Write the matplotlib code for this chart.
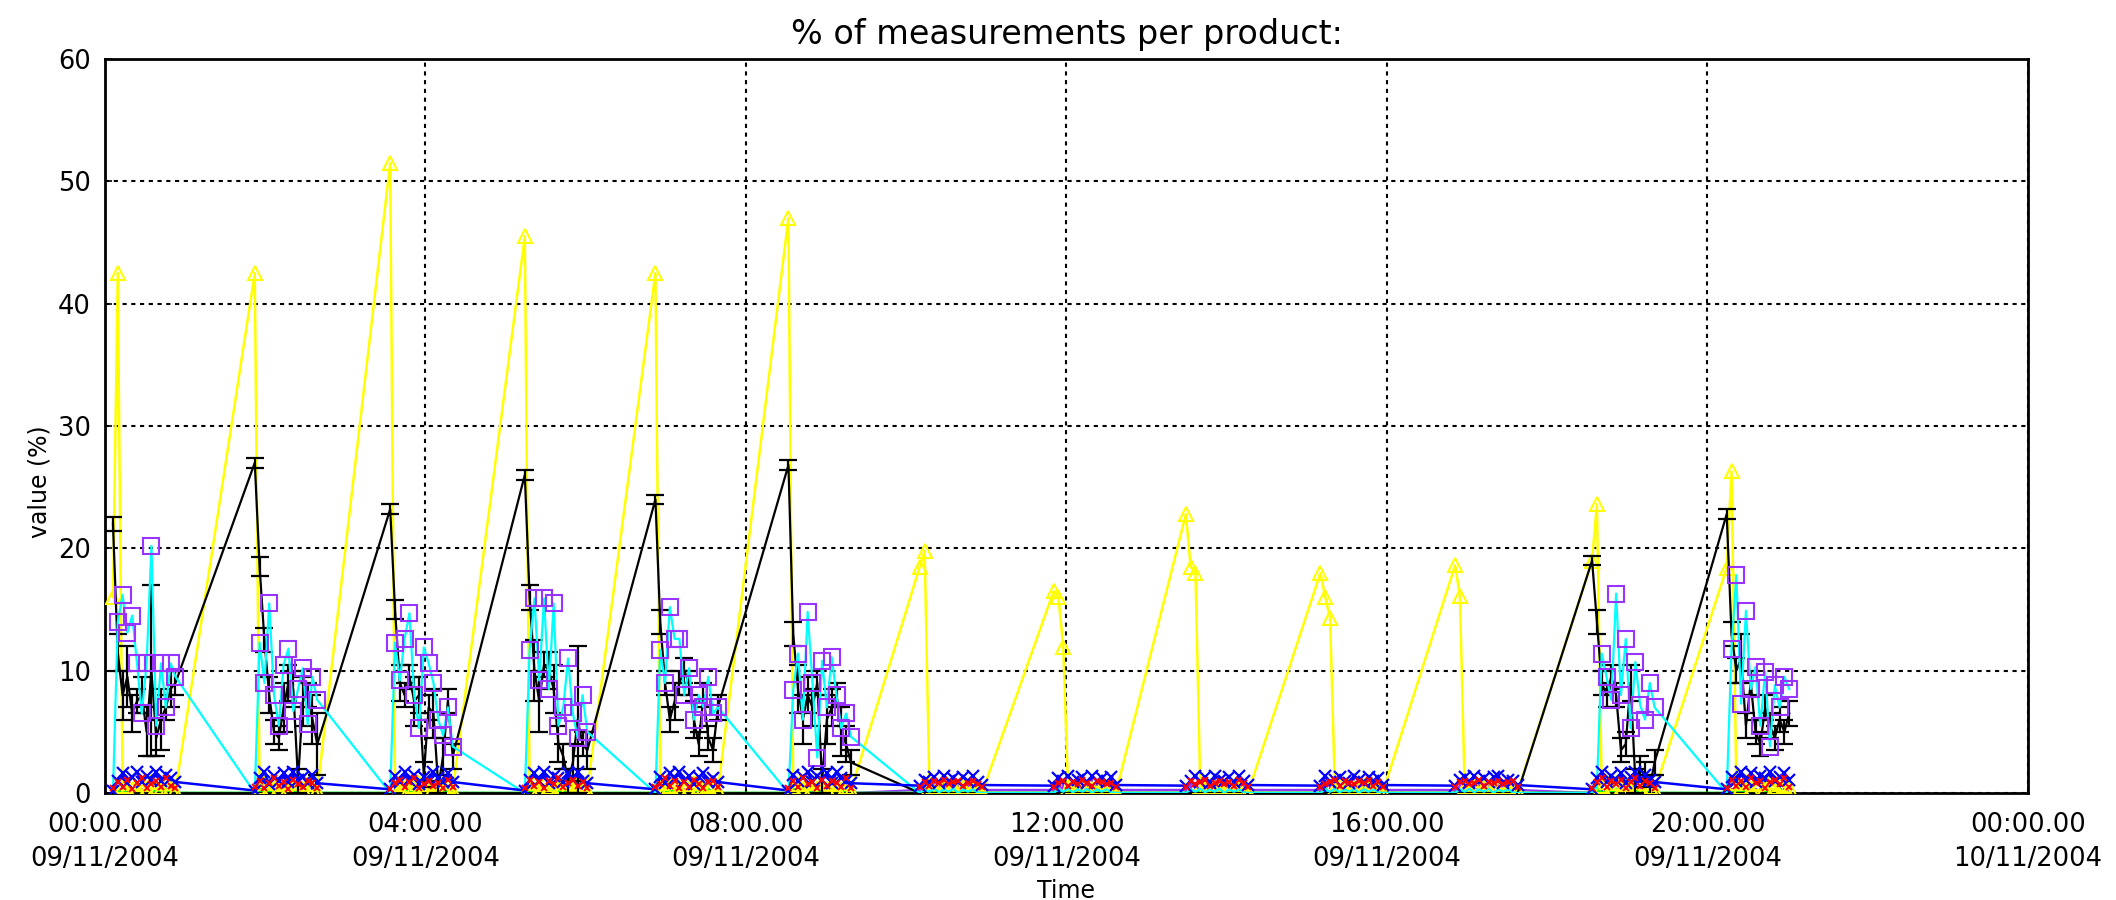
import numpy as np
import matplotlib
matplotlib.use("Agg")
import matplotlib.pyplot as plt

# ---- data -------------------------------------------------------------
# start of each measurement session (hours after 00:00 09/11/2004)
burst_start = [0.10, 1.87, 3.56, 5.24, 6.87, 8.53, 10.17, 11.84, 13.49,
               15.17, 16.85, 18.56, 20.24]
# sample times inside one session (hours after its start)
offsets = [0.00, 0.06, 0.12, 0.18, 0.24, 0.30, 0.36, 0.42, 0.48, 0.54,
           0.60, 0.66, 0.72, 0.78]

yellow = [
    [16.0, 42.5, 0.6, 0.3, 0.8, 0.4, 0.7, 0.3, 0.9, 0.5, 0.3, 0.8, 0.4, 0.2],
    [42.5, 0.5, 0.8, 0.3, 0.9, 0.4, 0.7, 0.3, 0.8, 0.5, 0.3, 0.7, 0.4, 0.2],
    [51.5, 0.7, 0.4, 0.9, 0.3, 0.6, 0.8, 0.4, 0.7, 0.3, 0.9, 0.5, 0.6, 0.2],
    [45.5, 0.4, 0.8, 0.3, 0.7, 0.5, 0.9, 0.3, 0.6, 0.8, 0.4, 0.7, 0.5, 0.2],
    [42.5, 0.8, 0.3, 0.6, 0.9, 0.4, 0.7, 0.3, 0.8, 0.5, 0.3, 0.6, 0.7, 0.2],
    [47.0, 0.5, 0.7, 0.3, 0.8, 0.4, 0.9, 0.5, 0.3, 0.7, 0.4, 0.8, 0.5, 0.2],
    [18.5, 19.8, 0.4, 0.6, 0.3, 0.5, 0.4, 0.6, 0.3, 0.5, 0.4, 0.3, 0.5, 0.1],
    [16.5, 16.0, 11.9, 0.4, 0.5, 0.3, 0.6, 0.4, 0.3, 0.5, 0.4, 0.3, 0.5, 0.1],
    [22.8, 18.5, 18.0, 0.5, 0.3, 0.6, 0.4, 0.3, 0.5, 0.4, 0.6, 0.3, 0.4, 0.1],
    [18.0, 16.0, 14.3, 0.4, 0.6, 0.3, 0.5, 0.4, 0.3, 0.6, 0.4, 0.5, 0.3, 0.1],
    [18.6, 16.1, 0.5, 0.3, 0.6, 0.4, 0.5, 0.3, 0.6, 0.4, 0.3, 0.5, 0.4, 0.1],
    [19.0, 23.6, 0.6, 0.9, 0.4, 0.8, 0.3, 0.7, 0.9, 0.4, 0.6, 0.8, 0.5, 0.2],
    [18.4, 26.3, 0.8, 0.5, 0.9, 0.3, 0.7, 0.8, 0.4, 0.9, 0.5, 0.7, 0.6, 0.4],
]

black = [
    [22.0, 11.5, 8.0, 9.5, 6.5, 7.5, 8.0, 5.0, 10.0, 4.5, 6.0, 7.0, 8.5, 9.0],
    [27.0, 18.5, 12.5, 8.0, 5.0, 4.5, 7.0, 9.0, 8.5, 1.0, 7.5, 8.0, 6.0, 4.0],
    [23.2, 15.0, 9.0, 8.0, 9.5, 7.5, 8.0, 1.5, 7.0, 6.5, 0.5, 3.0, 7.5, 3.0],
    [26.0, 16.0, 10.0, 7.5, 10.5, 10.0, 8.5, 4.0, 3.0, 1.0, 2.5, 6.0, 4.0, 3.5],
    [24.0, 14.0, 9.0, 6.0, 7.5, 9.0, 10.0, 9.0, 6.0, 4.0, 8.0, 4.5, 3.5, 7.0],
    [26.8, 13.0, 8.5, 6.0, 8.0, 7.0, 9.0, 1.0, 6.0, 7.0, 8.0, 5.0, 4.0, 2.5],
    [0.0, 0.0, 0.0, 0.0, 0.0, 0.0, 0.0, 0.0, 0.0, 0.0, 0.0, 0.0, 0.0, 0.0],
    [0.0, 0.0, 0.0, 0.0, 0.0, 0.0, 0.0, 0.0, 0.0, 0.0, 0.0, 0.0, 0.0, 0.0],
    [0.0, 0.0, 0.0, 0.0, 0.0, 0.0, 0.0, 0.0, 0.0, 0.0, 0.0, 0.0, 0.0, 0.0],
    [0.0, 0.0, 0.0, 0.0, 0.0, 0.0, 0.0, 0.0, 0.0, 0.0, 0.0, 0.0, 0.0, 0.0],
    [0.0, 0.0, 0.0, 0.0, 0.0, 0.0, 0.0, 0.0, 0.0, 0.0, 0.0, 0.0, 0.0, 0.0],
    [19.0, 14.0, 9.0, 8.0, 9.5, 8.0, 3.5, 4.0, 9.0, 1.0, 2.0, 1.5, 0.5, 2.5],
    [22.8, 13.0, 10.0, 11.0, 5.5, 9.0, 5.0, 4.0, 7.0, 5.5, 4.5, 6.0, 5.0, 6.5],
]

black_err = [
    [0.6, 1.5, 2.0, 2.5, 1.5, 1.0, 1.5, 2.0, 7.0, 1.5, 2.5, 1.0, 1.5, 1.0],
    [0.4, 0.8, 1.0, 1.5, 1.0, 1.0, 2.0, 1.5, 1.5, 1.0, 2.0, 1.0, 2.0, 2.5],
    [0.4, 0.8, 1.5, 1.0, 1.0, 2.0, 1.5, 1.0, 1.0, 2.0, 0.5, 1.5, 1.0, 1.0],
    [0.4, 1.0, 2.5, 2.5, 1.0, 1.5, 2.0, 1.5, 1.0, 1.0, 1.5, 6.0, 1.0, 1.5],
    [0.4, 1.0, 1.0, 1.0, 1.5, 1.0, 1.0, 1.0, 1.5, 1.0, 1.0, 1.0, 1.0, 1.0],
    [0.4, 1.0, 2.0, 2.0, 1.5, 1.5, 1.0, 1.0, 2.0, 1.5, 1.0, 2.0, 1.5, 1.0],
    [0.0, 0.0, 0.0, 0.0, 0.0, 0.0, 0.0, 0.0, 0.0, 0.0, 0.0, 0.0, 0.0, 0.0],
    [0.0, 0.0, 0.0, 0.0, 0.0, 0.0, 0.0, 0.0, 0.0, 0.0, 0.0, 0.0, 0.0, 0.0],
    [0.0, 0.0, 0.0, 0.0, 0.0, 0.0, 0.0, 0.0, 0.0, 0.0, 0.0, 0.0, 0.0, 0.0],
    [0.0, 0.0, 0.0, 0.0, 0.0, 0.0, 0.0, 0.0, 0.0, 0.0, 0.0, 0.0, 0.0, 0.0],
    [0.0, 0.0, 0.0, 0.0, 0.0, 0.0, 0.0, 0.0, 0.0, 0.0, 0.0, 0.0, 0.0, 0.0],
    [0.4, 1.0, 1.0, 1.0, 1.0, 1.0, 1.0, 1.0, 1.5, 1.0, 1.0, 1.0, 1.0, 1.0],
    [0.4, 1.0, 1.0, 2.0, 1.0, 1.0, 1.0, 1.0, 1.0, 1.0, 1.0, 1.0, 1.0, 1.0],
]

cyan = [
    [0.0, 14.0, 16.2, 13.1, 14.5, 10.6, 6.5, 10.6, 20.2, 5.5, 10.6, 7.0, 10.6, 9.5],
    [0.0, 12.3, 9.0, 15.5, 8.0, 5.5, 10.5, 11.8, 6.7, 8.5, 10.2, 5.6, 9.5, 7.6],
    [0.0, 12.3, 9.2, 12.6, 14.7, 8.0, 5.3, 11.9, 10.6, 9.0, 6.0, 4.7, 7.0, 3.8],
    [0.0, 11.7, 15.9, 9.2, 15.9, 8.5, 15.5, 5.5, 7.0, 11.0, 6.5, 4.5, 8.0, 5.0],
    [0.0, 11.7, 9.0, 15.2, 12.6, 12.6, 8.0, 10.2, 6.0, 8.0, 7.0, 9.5, 6.5, 7.0],
    [0.0, 8.4, 11.4, 6.0, 14.8, 9.0, 2.9, 10.8, 7.0, 11.1, 8.0, 5.3, 6.5, 4.6],
    [0.0, 0.3, 0.1, 0.35, 0.05, 0.3, 0.1, 0.35, 0.0, 0.3, 0.1, 0.3, 0.05, 0.0],
    [0.0, 0.3, 0.1, 0.35, 0.05, 0.3, 0.1, 0.35, 0.0, 0.3, 0.1, 0.3, 0.05, 0.0],
    [0.0, 0.3, 0.1, 0.35, 0.05, 0.3, 0.1, 0.35, 0.0, 0.3, 0.1, 0.3, 0.05, 0.0],
    [0.0, 0.3, 0.1, 0.35, 0.05, 0.3, 0.1, 0.35, 0.0, 0.3, 0.1, 0.3, 0.05, 0.0],
    [0.0, 0.3, 0.1, 0.35, 0.05, 0.3, 0.1, 0.35, 0.0, 0.3, 0.1, 0.3, 0.05, 0.0],
    [0.0, 0.5, 11.4, 9.5, 7.6, 16.3, 8.0, 12.6, 5.3, 10.7, 7.2, 6.0, 9.0, 7.0],
    [0.0, 11.8, 17.8, 7.3, 14.9, 8.5, 10.3, 5.5, 9.9, 3.8, 8.8, 7.0, 9.5, 8.5],
]

blue = [
    [0.2, 1.0, 1.6, 0.8, 1.3, 1.7, 0.9, 1.4, 1.1, 1.7, 1.0, 1.5, 1.2, 0.9],
    [0.2, 1.2, 1.7, 0.7, 1.4, 1.0, 1.6, 0.9, 1.7, 1.1, 1.3, 0.8, 1.5, 0.8],
    [0.3, 1.4, 0.9, 1.7, 1.1, 1.5, 0.7, 1.3, 1.0, 1.7, 1.2, 0.9, 1.6, 0.9],
    [0.2, 1.1, 1.6, 1.0, 1.7, 0.8, 1.4, 1.2, 0.9, 1.6, 1.1, 1.7, 1.0, 0.8],
    [0.3, 1.3, 0.8, 1.6, 1.2, 1.7, 1.0, 1.4, 0.7, 1.3, 1.6, 0.9, 1.2, 0.9],
    [0.2, 1.5, 1.0, 1.3, 1.7, 0.9, 1.4, 1.1, 1.6, 0.8, 1.7, 1.2, 1.0, 0.8],
    [0.6, 1.1, 0.9, 1.3, 0.8, 1.4, 1.0, 1.2, 0.9, 1.3, 1.0, 1.4, 0.9, 0.65],
    [0.6, 1.2, 1.0, 1.4, 0.9, 1.1, 1.3, 0.8, 1.4, 1.0, 1.2, 0.9, 1.3, 0.65],
    [0.6, 1.0, 1.4, 0.9, 1.3, 0.8, 1.4, 1.1, 1.0, 1.3, 0.9, 1.4, 1.0, 0.65],
    [0.6, 1.4, 0.9, 1.1, 1.3, 1.0, 0.8, 1.4, 1.1, 0.9, 1.3, 1.0, 1.2, 0.65],
    [0.6, 1.1, 1.3, 0.8, 1.4, 1.0, 1.2, 0.9, 1.3, 1.4, 0.8, 1.1, 1.0, 0.65],
    [0.3, 1.2, 1.7, 0.9, 1.4, 1.1, 1.6, 0.8, 1.3, 1.7, 1.0, 1.5, 1.1, 0.9],
    [0.3, 1.3, 1.0, 1.7, 1.1, 1.6, 0.9, 1.4, 1.2, 1.7, 1.0, 1.3, 1.6, 1.1],
]

red = [
    [0.4, 0.9, 0.5, 1.1, 0.3, 0.8, 1.2, 0.4, 0.7, 1.0, 0.5, 1.2, 0.6, 0.4],
    [0.5, 1.0, 0.4, 0.8, 1.2, 0.6, 0.9, 0.3, 1.1, 0.7, 0.5, 1.0, 0.8, 0.4],
    [0.3, 0.8, 1.1, 0.5, 0.9, 1.2, 0.4, 0.7, 1.0, 0.6, 0.8, 0.4, 1.1, 0.5],
    [0.4, 1.1, 0.6, 0.9, 0.4, 1.0, 0.7, 1.2, 0.5, 0.8, 1.1, 0.6, 0.9, 0.4],
    [0.5, 0.7, 1.2, 0.6, 1.0, 0.4, 0.9, 0.5, 1.1, 0.7, 0.4, 0.9, 1.0, 0.5],
    [0.4, 1.0, 0.5, 1.2, 0.7, 0.9, 0.4, 1.1, 0.6, 1.0, 0.8, 0.5, 1.2, 0.4],
    [0.5, 0.9, 0.6, 1.0, 0.8, 1.1, 0.7, 0.9, 1.0, 0.6, 0.8, 1.0, 0.7, 0.5],
    [0.5, 0.8, 1.0, 0.6, 0.9, 0.7, 1.1, 0.8, 0.6, 1.0, 0.9, 0.7, 0.8, 0.5],
    [0.5, 1.0, 0.7, 0.9, 1.1, 0.6, 0.8, 1.0, 0.7, 0.9, 0.6, 1.1, 0.8, 0.5],
    [0.5, 0.7, 0.9, 1.1, 0.6, 1.0, 0.8, 0.7, 1.0, 0.8, 1.1, 0.6, 0.9, 0.5],
    [0.5, 0.9, 1.0, 0.7, 0.8, 1.1, 0.6, 0.9, 0.8, 1.0, 0.7, 0.9, 1.0, 0.5],
    [0.4, 0.9, 1.2, 0.5, 1.0, 0.7, 1.1, 0.4, 0.9, 1.2, 0.6, 1.0, 0.8, 0.4],
    [0.4, 1.1, 0.6, 1.0, 0.5, 1.2, 0.8, 1.0, 0.4, 0.9, 1.1, 0.7, 1.2, 0.5],
]

violet = [
    [0.0, 0.0, 0.0, 0.0, 0.0, 0.0, 0.0, 0.0, 0.0, 0.0, 0.0, 0.0, 0.0, 0.0],
    [0.0, 0.0, 0.0, 0.0, 0.0, 0.0, 0.0, 0.0, 0.0, 0.0, 0.0, 0.0, 0.0, 0.0],
    [0.0, 0.0, 0.0, 0.0, 0.0, 0.0, 0.0, 0.0, 0.0, 0.0, 0.0, 0.0, 0.0, 0.0],
    [0.0, 0.0, 0.0, 0.0, 0.0, 0.0, 0.0, 0.0, 0.0, 0.0, 0.0, 0.0, 0.0, 0.0],
    [0.0, 0.0, 0.0, 0.0, 0.0, 0.0, 0.0, 0.0, 0.0, 0.0, 0.0, 0.0, 0.0, 0.0],
    [0.0, 0.0, 0.0, 0.0, 0.0, 0.0, 0.0, 0.0, 0.0, 0.0, 0.0, 0.0, 0.0, 0.0],
    [0.25, 0.8, 0.4, 0.6, 0.3, 0.7, 0.5, 0.4, 0.6, 0.3, 0.5, 0.7, 0.4, 0.25],
    [0.25, 0.6, 0.3, 0.7, 0.5, 0.4, 0.6, 0.3, 0.7, 0.5, 0.4, 0.6, 0.3, 0.25],
    [0.25, 0.7, 0.5, 0.3, 0.6, 0.4, 0.7, 0.5, 0.3, 0.6, 0.4, 0.5, 0.7, 0.25],
    [0.25, 0.5, 0.7, 0.4, 0.3, 0.6, 0.5, 0.7, 0.4, 0.3, 0.6, 0.4, 0.5, 0.25],
    [0.25, 0.6, 0.4, 0.7, 0.5, 0.3, 0.6, 0.4, 0.5, 0.7, 0.3, 0.6, 0.4, 0.25],
    [0.0, 0.0, 0.0, 0.0, 0.0, 0.0, 0.0, 0.0, 0.0, 0.0, 0.0, 0.0, 0.0, 0.0],
    [0.0, 0.0, 0.0, 0.0, 0.0, 0.0, 0.0, 0.0, 0.0, 0.0, 0.0, 0.0, 0.0, 0.0],
]

green = [
    [0.0, 0.2, 0.0, 0.3, 0.0, 0.2, 0.0, 0.3, 0.0, 0.2, 0.0, 0.3, 0.0, 0.0],
    [0.0, 0.3, 0.0, 0.2, 0.0, 0.3, 0.0, 0.2, 0.0, 0.3, 0.0, 0.2, 0.0, 0.0],
    [0.0, 0.2, 0.0, 0.3, 0.0, 0.2, 0.0, 0.3, 0.0, 0.2, 0.0, 0.3, 0.0, 0.0],
    [0.0, 0.3, 0.0, 0.2, 0.0, 0.3, 0.0, 0.2, 0.0, 0.3, 0.0, 0.2, 0.0, 0.0],
    [0.0, 0.2, 0.0, 0.3, 0.0, 0.2, 0.0, 0.3, 0.0, 0.2, 0.0, 0.3, 0.0, 0.0],
    [0.0, 0.3, 0.0, 0.2, 0.0, 0.3, 0.0, 0.2, 0.0, 0.3, 0.0, 0.2, 0.0, 0.0],
    [0.0, 0.2, 0.0, 0.3, 0.0, 0.2, 0.0, 0.3, 0.0, 0.2, 0.0, 0.3, 0.0, 0.0],
    [0.0, 0.3, 0.0, 0.2, 0.0, 0.3, 0.0, 0.2, 0.0, 0.3, 0.0, 0.2, 0.0, 0.0],
    [0.0, 0.2, 0.0, 0.3, 0.0, 0.2, 0.0, 0.3, 0.0, 0.2, 0.0, 0.3, 0.0, 0.0],
    [0.0, 0.3, 0.0, 0.2, 0.0, 0.3, 0.0, 0.2, 0.0, 0.3, 0.0, 0.2, 0.0, 0.0],
    [0.0, 0.2, 0.0, 0.3, 0.0, 0.2, 0.0, 0.3, 0.0, 0.2, 0.0, 0.3, 0.0, 0.0],
    [0.0, 0.3, 0.0, 0.2, 0.0, 0.3, 0.0, 0.2, 0.0, 0.3, 0.0, 0.2, 0.0, 0.0],
    [0.0, 0.2, 0.0, 0.3, 0.0, 0.2, 0.0, 0.3, 0.0, 0.2, 0.0, 0.3, 0.0, 0.0],
]

tick_hours = [0, 4, 8, 12, 16, 20, 24]
tick_labels = ["00:00.00\n09/11/2004", "04:00.00\n09/11/2004",
               "08:00.00\n09/11/2004", "12:00.00\n09/11/2004",
               "16:00.00\n09/11/2004", "20:00.00\n09/11/2004",
               "00:00.00\n10/11/2004"]
y_ticks = [0, 10, 20, 30, 40, 50, 60]

# ---- flatten sessions into time series -----------------------------------
t = np.concatenate([s + np.asarray(offsets) for s in burst_start])


def flat(series):
    return np.concatenate([np.asarray(b, dtype=float) for b in series])


y_yel, y_blk, e_blk = flat(yellow), flat(black), flat(black_err)
y_cya, y_blu, y_red = flat(cyan), flat(blue), flat(red)
y_vio, y_grn = flat(violet), flat(green)

# ---- figure ----------------------------------------------------------------
plt.rcParams["font.family"] = ["DejaVu Sans"]
fig = plt.figure(figsize=(21.16, 9.0), dpi=100)
ax = fig.add_axes([0.0496, 0.1189, 0.9088, 0.8155])

YEL, BLK, CYA, PUR = "#ffff00", "#000000", "#00ffff", "#9933ff"
BLU, RED, GRN = "#0000ff", "#ff0000", "#00ff00"

ax.plot(t, y_vio, color=PUR, lw=1.6, marker="|", ms=7, mew=1.4, zorder=2)
ax.plot(t, y_grn, color=GRN, lw=2.0, marker=".", ms=3, zorder=2.1)
ax.plot(t, y_yel, color=YEL, lw=1.8, marker="^", ms=10, mfc="none",
        mec=YEL, mew=1.5, zorder=3)
ax.plot(t, y_blk, color=BLK, lw=1.6, zorder=4)
has_err = e_blk > 0
ax.errorbar(t[has_err], y_blk[has_err], yerr=e_blk[has_err], fmt="none",
            ecolor=BLK, elinewidth=1.6, capsize=6.5, capthick=1.6, zorder=4)
ax.plot(t, y_cya, color=CYA, lw=1.6, zorder=5)
big = y_cya > 1
ax.plot(t[big], y_cya[big], ls="none", marker="s", ms=11, mfc="none",
        mec=PUR, mew=1.5, zorder=5.5)
ax.plot(t, y_blu, color=BLU, lw=1.8, marker="x", ms=8, mew=1.6, zorder=6)
ax.plot(t, y_red, ls="none", marker="x", ms=5, mew=1.4, color=RED, zorder=7)

ax.set_xlim(0, 24)
ax.set_ylim(0, 60)
ax.set_xticks(tick_hours)
ax.set_xticklabels(tick_labels, linespacing=1.4)
ax.set_yticks(y_ticks)
ax.tick_params(axis="both", direction="in", length=5, width=1.2,
               labelsize=18.5, colors="black")
ax.tick_params(axis="x", pad=14)
ax.tick_params(axis="y", pad=10)
ax.grid(True, color="black", linestyle=(0, (2, 2.2)), linewidth=1.5)
ax.set_axisbelow(True)
for sp in ax.spines.values():
    sp.set_linewidth(2.0)
    sp.set_color("black")

ax.set_title("% of measurements per product:", fontsize=24, pad=11)
ax.set_xlabel("Time", fontsize=17, labelpad=5)
ax.set_ylabel("value (%)", fontsize=17)
ax.yaxis.set_label_coords(-0.028, 0.424)

fig.savefig("out.png", dpi=100, facecolor="white")
